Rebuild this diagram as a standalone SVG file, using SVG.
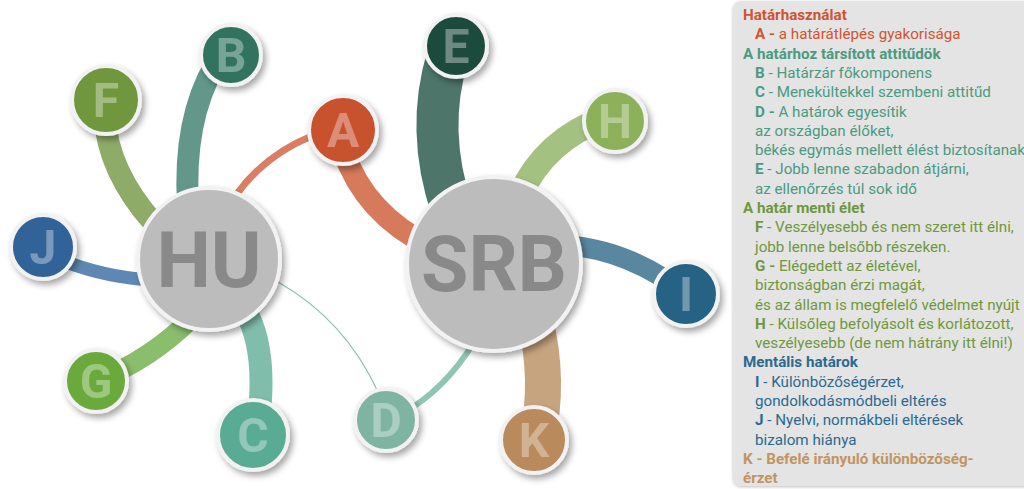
<svg xmlns="http://www.w3.org/2000/svg" width="1024" height="489" viewBox="0 0 1024 489">
<defs>
<filter id="sh" x="-30%" y="-30%" width="170%" height="170%">
<feDropShadow dx="3" dy="4" stdDeviation="3" flood-color="#000" flood-opacity="0.35"/>
</filter>
<filter id="lsh" x="-5%" y="-5%" width="110%" height="110%">
<feDropShadow dx="0" dy="1" stdDeviation="1.5" flood-color="#000" flood-opacity="0.25"/>
</filter>
<style>
.ring{stroke:#f2f2f2;stroke-width:4}
.big{fill:#bcbcbc}
.bigt{font-family:Roboto,"Liberation Sans",sans-serif;font-weight:700;font-size:77px;fill:#898989;text-anchor:middle}
.let{font-family:Roboto,"Liberation Sans",sans-serif;font-weight:700;font-size:48px;fill:#fff;fill-opacity:0.35;text-anchor:middle}
.c{fill:none;stroke-linecap:butt}
.lg{font-family:Roboto,"Liberation Sans",sans-serif;font-size:15.2px}
.b{font-weight:700}
.or{fill:#d0542f}
.tl{fill:#4b9a81}
.gr{fill:#6f983d}
.bl{fill:#2b6a90}
.tn{fill:#c29462}
</style>
</defs>
<rect width="1024" height="489" fill="#fff"/>

<g id="legend">
<rect x="733" y="1" width="310" height="485" rx="8" fill="#e4e4e4" filter="url(#lsh)"/>
<text class="lg" x="743" y="20"><tspan class="b or">Határhasználat</tspan></text>
<text class="lg or" x="755" y="39.3"><tspan class="b">A - </tspan>a határátlépés gyakorisága</text>
<text class="lg b tl" x="743" y="58.6">A határhoz társított attitűdök</text>
<text class="lg tl" x="755" y="77.9"><tspan class="b">B</tspan> - Határzár főkomponens</text>
<text class="lg tl" x="755" y="97.2"><tspan class="b">C</tspan> - Menekültekkel szembeni attitűd</text>
<text class="lg tl" x="755" y="116.5"><tspan class="b">D - </tspan>A határok egyesítik</text>
<text class="lg tl" x="755" y="135.8">az országban élőket,</text>
<text class="lg tl" x="755" y="155.1">békés egymás mellett élést biztosítanak</text>
<text class="lg tl" x="755" y="174.4"><tspan class="b">E</tspan> - Jobb lenne szabadon átjárni,</text>
<text class="lg tl" x="755" y="193.7">az ellenőrzés túl sok idő</text>
<text class="lg b gr" x="743" y="213">A határ menti élet</text>
<text class="lg gr" x="755" y="232.3"><tspan class="b">F</tspan> - Veszélyesebb és nem szeret itt élni,</text>
<text class="lg gr" x="755" y="251.6">jobb lenne belsőbb részeken.</text>
<text class="lg gr" x="755" y="270.9"><tspan class="b">G - </tspan>Elégedett az életével,</text>
<text class="lg gr" x="755" y="290.2">biztonságban érzi magát,</text>
<text class="lg gr" x="755" y="309.5">és az állam is megfelelő védelmet nyújt</text>
<text class="lg gr" x="755" y="328.8"><tspan class="b">H</tspan> - Külsőleg befolyásolt és korlátozott,</text>
<text class="lg gr" x="755" y="348.1">veszélyesebb (de nem hátrány itt élni!)</text>
<text class="lg b bl" x="743" y="367.4">Mentális határok</text>
<text class="lg bl" x="755" y="386.7"><tspan class="b">I</tspan> - Különbözőségérzet,</text>
<text class="lg bl" x="755" y="406">gondolkodásmódbeli eltérés</text>
<text class="lg bl" x="755" y="425.3"><tspan class="b">J</tspan> - Nyelvi, normákbeli eltérések</text>
<text class="lg bl" x="755" y="444.6">bizalom hiánya</text>
<text class="lg b tn" x="743" y="463.9">K - Befelé irányuló különbözőség-</text>
<text class="lg b tn" x="743" y="483.2">érzet</text>
</g>

<g id="connectors">
<path class="c" d="M 236 195 Q 265 155 312 136" stroke="#d97e63" stroke-width="7"/>
<path class="c" d="M 343 150 Q 365 215 432 247" stroke="#d77a5c" stroke-width="22"/>
<path class="c" d="M 106 130 Q 115 185 165 235" stroke="#8fab68" stroke-width="22"/>
<path class="c" d="M 215 65 Q 183 120 188 205" stroke="#62978a" stroke-width="22"/>
<path class="c" d="M 50 255 Q 95 276 150 280" stroke="#5e88b3" stroke-width="13"/>
<path class="c" d="M 96 381 Q 150 360 192 318" stroke="#8abd6c" stroke-width="20"/>
<path class="c" d="M 245 310 Q 268 350 258 425" stroke="#80bdaa" stroke-width="23"/>
<path class="c" d="M 278 282 Q 345 320 378 392" stroke="#8dc0b3" stroke-width="1.2"/>
<path class="c" d="M 400 415 Q 445 390 474 342" stroke="#92c4b6" stroke-width="6"/>
<path class="c" d="M 448 55 Q 425 130 452 210" stroke="#4d7569" stroke-width="42"/>
<path class="c" d="M 520 195 Q 545 140 605 118" stroke="#a3c180" stroke-width="25"/>
<path class="c" d="M 565 245 Q 630 250 686 294" stroke="#5a87a0" stroke-width="20"/>
<path class="c" d="M 535 320 Q 550 380 537 440" stroke="#c6a47f" stroke-width="36"/>
</g>

<g id="node-HU" filter="url(#sh)">
<circle cx="209" cy="259" r="71" class="ring big"/>
<text class="bigt" x="209" y="287">HU</text>
</g>
<g id="node-SRB" filter="url(#sh)">
<circle cx="494" cy="264" r="87" class="ring big"/>
<text class="bigt" x="494" y="291">SRB</text>
</g>
<g id="node-A" filter="url(#sh)">
<circle cx="343" cy="130" r="34" class="ring" fill="#c8512f"/>
<text class="let" x="343" y="147">A</text>
</g>
<g id="node-B" filter="url(#sh)">
<circle cx="231" cy="55" r="30" class="ring" fill="#31735f"/>
<text class="let" x="231" y="72">B</text>
</g>
<g id="node-F" filter="url(#sh)">
<circle cx="106" cy="100" r="34" class="ring" fill="#6f973c"/>
<text class="let" x="106" y="117">F</text>
</g>
<g id="node-J" filter="url(#sh)">
<circle cx="43" cy="247" r="32" class="ring" fill="#336398"/>
<text class="let" x="43" y="264">J</text>
</g>
<g id="node-G" filter="url(#sh)">
<circle cx="96" cy="381" r="31" class="ring" fill="#6aaa3c"/>
<text class="let" x="96" y="398">G</text>
</g>
<g id="node-C" filter="url(#sh)">
<circle cx="253" cy="435" r="35" class="ring" fill="#5aab93"/>
<text class="let" x="253" y="452">C</text>
</g>
<g id="node-D" filter="url(#sh)">
<circle cx="386" cy="420" r="31" class="ring" fill="#7fb4a2"/>
<text class="let" x="386" y="437">D</text>
</g>
<g id="node-K" filter="url(#sh)">
<circle cx="534" cy="440" r="33" class="ring" fill="#b88a5b"/>
<text class="let" x="534" y="457">K</text>
</g>
<g id="node-I" filter="url(#sh)">
<circle cx="686" cy="294" r="32" class="ring" fill="#256283"/>
<text class="let" x="686" y="311">I</text>
</g>
<g id="node-E" filter="url(#sh)">
<circle cx="456" cy="46" r="31" class="ring" fill="#1f4b3e"/>
<text class="let" x="456" y="63">E</text>
</g>
<g id="node-H" filter="url(#sh)">
<circle cx="615" cy="121" r="31" class="ring" fill="#8db15a"/>
<text class="let" x="615" y="138">H</text>
</g>
</svg>
